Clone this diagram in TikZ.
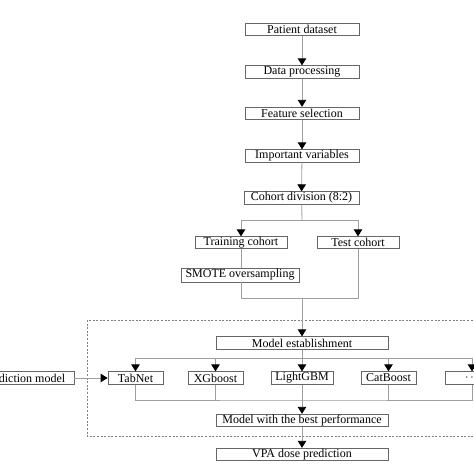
\documentclass[tikz,border=0pt]{standalone}
\usepackage{fontspec}
\setmainfont{Liberation Serif}
\usetikzlibrary{arrows.meta}
\begin{document}
\begin{tikzpicture}[x=1pt,y=-1pt,
  box/.style={draw=black!60, fill=white, inner sep=0pt, minimum height=12.5pt, line width=0.8pt, font=\fontsize{12}{12}\selectfont},
  conn/.style={draw=black!38, line width=0.8pt},
  arr/.style={conn, -{Triangle[length=7pt,width=8.5pt,color=black]}},
  dashbox/.style={draw=black!50, line width=0.6pt, dash pattern=on 2pt off 1.6pt}]
\useasboundingbox (0,0) rectangle (474,474);
\clip (0,0) rectangle (474,474);
\fill[white] (0,0) rectangle (474,474);

\draw[dashbox] (87,320) rectangle (495,436);

\node[box, minimum width=114pt] (pd) at (302,29.5) {Patient dataset};
\node[box, minimum width=114pt] (dp) at (302,72) {Data processing};
\node[box, minimum width=114pt] (fs) at (302,113.5) {Feature selection};
\node[box, minimum width=114pt] (iv) at (302,156) {Important variables};
\node[box, minimum width=115pt] (cd) at (301.5,198) {Cohort division (8:2)};
\node[box, minimum width=92pt, minimum height=11.5pt] (tr) at (241,242.5) {Training cohort};
\node[box, minimum width=82pt, minimum height=11.5pt] (te) at (358,242.5) {Test cohort};
\node[box, minimum width=118pt, minimum height=14pt] (sm) at (240,275) {SMOTE oversampling};
\node[box, minimum width=172pt] (me) at (302,343) {Model establishment};
\node[box, minimum width=100pt] (pm) at (24,378) {Prediction model};
\node[box, minimum width=55pt] (tab) at (135.5,378) {TabNet};
\node[box, minimum width=55pt] (xg) at (215.5,378) {XGboost};
\node[box, minimum width=62pt] (lg) at (302,378) {LightGBM};
\node[box, minimum width=55pt] (cb) at (388.5,378) {CatBoost};
\node[box, minimum width=54pt] (dots) at (472,378) {$\cdots$};
\node[box, minimum width=172pt] (bp) at (302,420.5) {Model with the best performance};
\node[box, minimum width=172pt] (vpa) at (302,454.5) {VPA dose prediction};

\coordinate (split) at (302,220);
\coordinate (join) at (302,298);
\coordinate (jL) at (241,298);
\coordinate (jR) at (358,298);
\coordinate (bar) at (302,358);
\coordinate (bot) at (302,400);

\draw[arr] (pd) -- (dp);
\draw[arr] (dp) -- (fs);
\draw[arr] (fs) -- (iv);
\draw[arr] (iv) -- (cd);
\draw[conn] (cd) -- (split);
\draw[arr] (split) -| (tr);
\draw[arr] (split) -| (te);
\draw[conn] (tr.south) -- (tr.south |- sm.north);
\draw[conn] (sm.south -| tr) -- (jL) -- (jR) -- (te.south);
\draw[arr] (join) -- (me);
\draw[conn] (me) -- (bar);
\draw[arr] (bar) -| (tab);
\draw[arr] (bar) -| (dots);
\draw[arr] (bar -| xg) -- (xg);
\draw[arr] (bar) -- (lg);
\draw[arr] (bar -| cb) -- (cb);
\draw[arr] (pm) -- (tab);
\draw[conn] (tab.south) |- (bot) -| (dots.south);
\draw[conn] (xg.south) -- (xg.south |- bot);
\draw[conn] (lg) -- (bot);
\draw[conn] (cb.south) -- (cb.south |- bot);
\draw[arr] (bot) -- (bp);
\draw[arr] (bp) -- (vpa);
\end{tikzpicture}
\end{document}
